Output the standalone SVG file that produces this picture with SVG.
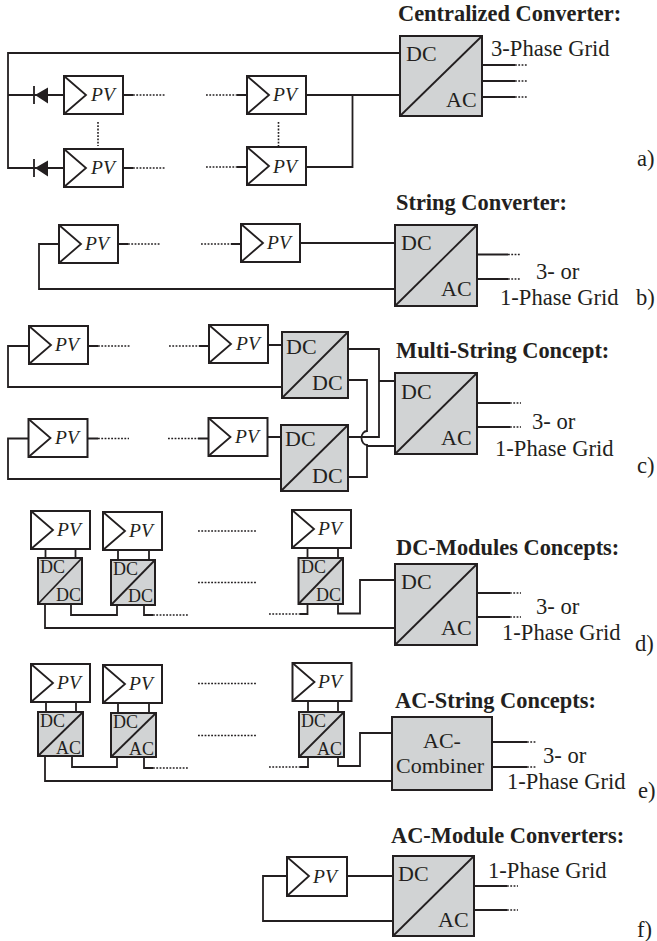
<svg xmlns="http://www.w3.org/2000/svg" width="657" height="941" viewBox="0 0 657 941">
<defs>
<style>
text{font-family:"Liberation Serif","Times New Roman",serif;fill:#231f20}
.t{font-size:22.4px;font-weight:bold}
.l{font-size:22.6px}
.c{font-size:22px}
.s{font-size:18px}
.p{font-size:19.5px;font-style:italic}
.box{fill:#fff;stroke:#231f20;stroke-width:2}
.conv{fill:#d1d3d4;stroke:#231f20;stroke-width:2}
.w{fill:none;stroke:#231f20;stroke-width:1.8}
.d{fill:none;stroke:#231f20;stroke-width:1.6;stroke-dasharray:1.8 1.5}
</style>
</defs>
<rect width="657" height="941" fill="#fff"/>
<g id="connectors">
<path class="w" d="M400 53H8V168H64M8 95H64M123 95H133M247 95H237M306 95H400M306 167H352.500V95M123 168H133M247 167H237M482 65H515M482 81H515M482 97H515"/>
<path d="M35 95L48 87.500V103.500ZM35 168L48 160.500V176.500Z" fill="#231f20"/>
<path class="w" d="M34 86V104M34 159V177"/>
<path class="d" d="M133 95H165M206 95H237M133 168H165M206 167H237M98 122V146M278.500 122V146M515 65H527M515 81H527M515 97H527"/>
<path class="w" d="M59 244H39V289H395M300 243H395M118 244H128M241 244H231M477 254.500H508M477 279H508"/>
<path class="d" d="M128 244H160M201 244H231M508 254.500H521M508 279H521"/>
<path class="w" d="M29 346H8V387H282M268 345H282M88 346H98M209 346H199M348 349H379V437H348M348 380H367V431A5.500 7 0 0 0 367 445V477H348M379 381H395M367 446H395M28 438.500H8V479H281M268 437H281M88 438.500H98M208.500 438.500H198M477 403H510M477 427H510"/>
<path class="d" d="M98 346H130M169 346H199M98 438.500H129M168 438.500H198M510 403H521M510 427H521"/>
<path class="w" d="M45.500 549V558M75.500 549V558M118 550V560M149 550V560M307.500 548V558M338 548V558M45 604V628H395M71 604V615H117V605M144 605V615H153M300 614H307.500V604M338 604V613.500H360V580H395M477 593H510M477 617H510"/>
<path class="d" d="M153 615H188M269 614H300M198 531H256M198 582.500H256M510 593H521M510 617H521"/>
<path class="w" d="M46 702V712M76 702V712M118 703V713M149 703V713M308 701V712M338 701V712M45 756V781H392M72 757V767H117V757M144 757V768H153M300 767H308V757M338 757V766H360V733H392M492 742H527M492 767H527"/>
<path class="d" d="M153 768H188M269 767H300M198 683.500H256M198 735.500H256M527 742H536M527 767H536"/>
<path class="w" d="M347 876H393M287 876H263V921H393M474 886H507M474 910H507"/>
<path class="d" d="M507 886H518M507 910H518"/>
</g>
<g id="section-a">
<text class="t" x="398" y="21">Centralized Converter:</text>
<g id="a-pv1"><rect class="box" x="64" y="76" width="59" height="38"/><path class="w" d="M64 76L86 95L64 114"/><text class="p" x="91" y="101">PV</text></g>
<g id="a-pv2"><rect class="box" x="247" y="76" width="59" height="38"/><path class="w" d="M247 76L269 95L247 114"/><text class="p" x="273" y="101">PV</text></g>
<g id="a-pv3"><rect class="box" x="64" y="149" width="59" height="38"/><path class="w" d="M64 149L86 168L64 187"/><text class="p" x="91" y="174">PV</text></g>
<g id="a-pv4"><rect class="box" x="247" y="147" width="59" height="38"/><path class="w" d="M247 147L269 166L247 185"/><text class="p" x="273" y="173">PV</text></g>
<g id="a-conv"><rect class="conv" x="400" y="36" width="82" height="80"/><path class="w" d="M400 116L482 36"/><text class="c" x="406" y="61">DC</text><text class="c" x="446" y="107">AC</text></g>
<text class="l" x="491" y="56">3-Phase Grid</text>
<text class="l" x="637" y="166">a)</text>
</g>
<g id="section-b">
<text class="t" x="396" y="210">String Converter:</text>
<g id="b-pv1"><rect class="box" x="59" y="225" width="59" height="38"/><path class="w" d="M59 225L81 244L59 263"/><text class="p" x="85" y="250">PV</text></g>
<g id="b-pv2"><rect class="box" x="241" y="224" width="59" height="38"/><path class="w" d="M241 224L263 243L241 262"/><text class="p" x="267" y="249">PV</text></g>
<g id="b-conv"><rect class="conv" x="395" y="225" width="82" height="81"/><path class="w" d="M395 306L477 225"/><text class="c" x="401" y="250">DC</text><text class="c" x="441" y="296">AC</text></g>
<text class="l" x="536" y="279">3- or</text>
<text class="l" x="500" y="305">1-Phase Grid</text>
<text class="l" x="636" y="305">b)</text>
</g>
<g id="section-c">
<text class="t" x="396" y="358">Multi-String Concept:</text>
<g id="c-pv1"><rect class="box" x="29" y="326" width="59" height="38"/><path class="w" d="M29 326L51 345L29 364"/><text class="p" x="55" y="351">PV</text></g>
<g id="c-pv2"><rect class="box" x="209" y="325" width="59" height="38"/><path class="w" d="M209 325L231 344L209 363"/><text class="p" x="236" y="350">PV</text></g>
<g id="c-pv3"><rect class="box" x="28.500" y="419" width="59" height="38"/><path class="w" d="M28.500 419L50.500 438L28.500 457"/><text class="p" x="55" y="444">PV</text></g>
<g id="c-pv4"><rect class="box" x="208.500" y="418" width="59" height="38"/><path class="w" d="M208.500 418L230.500 437L208.500 456"/><text class="p" x="235" y="443">PV</text></g>
<g id="c-dc1"><rect class="conv" x="282" y="332" width="66" height="66"/><path class="w" d="M282 398L348 332"/><text class="c" x="286" y="354">DC</text><text class="c" x="312" y="390">DC</text></g>
<g id="c-dc2"><rect class="conv" x="281" y="425" width="67" height="66"/><path class="w" d="M281 491L348 425"/><text class="c" x="285" y="446">DC</text><text class="c" x="312" y="483">DC</text></g>
<g id="c-conv"><rect class="conv" x="395" y="373" width="82" height="81"/><path class="w" d="M395 454L477 373"/><text class="c" x="401" y="399">DC</text><text class="c" x="441" y="445">AC</text></g>
<text class="l" x="532" y="429">3- or</text>
<text class="l" x="495" y="456">1-Phase Grid</text>
<text class="l" x="637" y="473">c)</text>
</g>
<g id="section-d">
<text class="t" x="396" y="555">DC-Modules Concepts:</text>
<g id="d-pv1"><rect class="box" x="31" y="511" width="59" height="38"/><path class="w" d="M31 511L53 530L31 549"/><text class="p" x="57" y="536">PV</text></g>
<g id="d-pv2"><rect class="box" x="103" y="512" width="59" height="38"/><path class="w" d="M103 512L125 531L103 550"/><text class="p" x="129" y="537">PV</text></g>
<g id="d-pv3"><rect class="box" x="292" y="510" width="59" height="38"/><path class="w" d="M292 510L314 529L292 548"/><text class="p" x="318" y="535">PV</text></g>
<g id="d-dc1"><rect class="conv" x="38" y="558" width="44" height="46"/><path class="w" d="M38 604L82 558"/><text class="s" x="40" y="573">DC</text><text class="s" x="56" y="601">DC</text></g>
<g id="d-dc2"><rect class="conv" x="111" y="560" width="44" height="45"/><path class="w" d="M111 605L155 560"/><text class="s" x="113" y="575">DC</text><text class="s" x="128" y="602">DC</text></g>
<g id="d-dc3"><rect class="conv" x="298.500" y="558" width="44.500" height="46"/><path class="w" d="M298.500 604L343 558"/><text class="s" x="301" y="573">DC</text><text class="s" x="316" y="601">DC</text></g>
<g id="d-conv"><rect class="conv" x="395" y="564" width="82" height="81"/><path class="w" d="M395 645L477 564"/><text class="c" x="401" y="589">DC</text><text class="c" x="441" y="635">AC</text></g>
<text class="l" x="536" y="614">3- or</text>
<text class="l" x="502" y="640">1-Phase Grid</text>
<text class="l" x="635" y="651">d)</text>
</g>
<g id="section-e">
<text class="t" x="395" y="708">AC-String Concepts:</text>
<g id="e-pv1"><rect class="box" x="31" y="664" width="59" height="38"/><path class="w" d="M31 664L53 683L31 702"/><text class="p" x="57" y="689">PV</text></g>
<g id="e-pv2"><rect class="box" x="103" y="665" width="59" height="38"/><path class="w" d="M103 665L125 684L103 703"/><text class="p" x="129" y="690">PV</text></g>
<g id="e-pv3"><rect class="box" x="292.500" y="663" width="59" height="38"/><path class="w" d="M292.500 663L314.500 682L292.500 701"/><text class="p" x="318" y="688">PV</text></g>
<g id="e-ac1"><rect class="conv" x="38" y="712" width="45" height="44"/><path class="w" d="M38 756L83 712"/><text class="s" x="40" y="727">DC</text><text class="s" x="56" y="754">AC</text></g>
<g id="e-ac2"><rect class="conv" x="111" y="713" width="45" height="44"/><path class="w" d="M111 757L156 713"/><text class="s" x="113" y="728">DC</text><text class="s" x="129" y="755">AC</text></g>
<g id="e-ac3"><rect class="conv" x="299" y="712" width="45" height="45"/><path class="w" d="M299 757L344 712"/><text class="s" x="301" y="727">DC</text><text class="s" x="317" y="755">AC</text></g>
<g id="e-combiner"><rect class="conv" x="392" y="717" width="100" height="73"/><text class="c" x="442" y="748" text-anchor="middle">AC-</text><text class="c" x="396" y="773">Combiner</text></g>
<text class="l" x="543" y="763">3- or</text>
<text class="l" x="507" y="789">1-Phase Grid</text>
<text class="l" x="638" y="798">e)</text>
</g>
<g id="section-f">
<text class="t" x="391" y="843">AC-Module Converters:</text>
<g id="f-pv"><rect class="box" x="287" y="857" width="60" height="39"/><path class="w" d="M287 857L309 876L287 896"/><text class="p" x="313" y="883">PV</text></g>
<g id="f-conv"><rect class="conv" x="393" y="856" width="81" height="80"/><path class="w" d="M393 936L474 856"/><text class="c" x="398" y="881">DC</text><text class="c" x="438" y="927">AC</text></g>
<text class="l" x="488" y="878">1-Phase Grid</text>
<text class="l" x="637" y="937">f)</text>
</g>
</svg>
